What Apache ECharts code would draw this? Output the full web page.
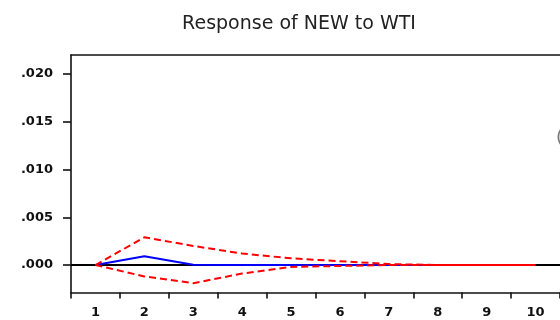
<!DOCTYPE html>
<html>
<head>
<meta charset="utf-8">
<script src="https://cdn.jsdelivr.net/npm/echarts@6/dist/echarts.min.js"></script>
<style>
  html, body { margin: 0; padding: 0; background: #fff; }
  #chart { width: 560px; height: 320px; }
</style>
</head>
<body>
<div id="chart"></div>
<script>
// Impulse response periods
const periods = ['1', '2', '3', '4', '5', '6', '7', '8', '9', '10'];
// Response of NEW to a WTI shock
const response = [0, 0.00092, 0.00002, 0.00001, 0, 0, 0, 0, 0, 0];
// +/- 2 S.E. bands
const upperBand = [0, 0.0029, 0.0020, 0.0012, 0.0007, 0.0004, 0.0001, 0, 0, 0];
const lowerBand = [0, -0.0012, -0.0019, -0.0009, -0.0002, -0.0001, 0, 0, 0, 0];
// Y axis tick values
const yTicks = [0, 0.005, 0.010, 0.015, 0.020];

const chart = echarts.init(document.getElementById('chart'), null, { renderer: 'canvas' });

const fmt = v => v.toFixed(3).replace(/^0/, '');
const axisFont = { fontFamily: 'DejaVu Sans', fontSize: 13, fontWeight: 'bold', color: '#111' };
const frame = { color: '#111', width: 1.6 };

chart.setOption({
  animation: false,
  backgroundColor: '#ffffff',
  title: {
    text: 'Response of NEW to WTI',
    left: 294,
    top: 10,
    textAlign: 'center',
    textStyle: { fontFamily: 'DejaVu Sans', fontSize: 19, fontWeight: 'normal', color: '#222' }
  },
  grid: { left: 71, top: 55, width: 491, height: 237.5, show: false },
  xAxis: [
    {
      type: 'category',
      data: periods,
      boundaryGap: true,
      position: 'bottom',
      axisLine: { onZero: false, lineStyle: frame },
      axisTick: { show: true, inside: false, length: 6, lineStyle: frame },
      axisLabel: Object.assign({ margin: 14 }, axisFont),
      splitLine: { show: false }
    },
    {
      // top edge of the plot frame
      type: 'category',
      data: periods,
      position: 'top',
      axisLine: { onZero: false, lineStyle: frame },
      axisTick: { show: false },
      axisLabel: { show: false },
      splitLine: { show: false }
    }
  ],
  yAxis: {
    type: 'value',
    min: -0.00288,
    max: 0.0220,
    axisLine: { show: true, onZero: false, lineStyle: frame },
    axisTick: { show: true, length: 8, customValues: yTicks, lineStyle: frame },
    axisLabel: Object.assign({ margin: 18, customValues: yTicks, formatter: fmt }, axisFont),
    splitLine: { show: false }
  },
  graphic: [{
    type: 'text',
    left: 556, top: 129,
    style: { text: '(', fontFamily: 'DejaVu Sans', fontSize: 18, fill: '#777' }
  }],
  series: [
    {
      name: 'zero',
      type: 'line',
      data: [],
      z: 1,
      markLine: {
        z: 1,
        silent: true,
        symbol: 'none',
        label: { show: false },
        lineStyle: { color: '#000', width: 1.8, type: 'solid' },
        data: [{ yAxis: 0 }]
      }
    },
    {
      name: 'Response',
      type: 'line',
      data: response,
      z: 2,
      symbol: 'none',
      lineStyle: { color: '#0000ff', width: 2 }
    },
    {
      name: 'Upper',
      type: 'line',
      data: upperBand,
      z: 3,
      symbol: 'none',
      lineStyle: { color: '#ff0000', width: 2, type: [7, 4] }
    },
    {
      name: 'Lower',
      type: 'line',
      data: lowerBand,
      z: 3,
      symbol: 'none',
      lineStyle: { color: '#ff0000', width: 2, type: [7, 4] }
    }
  ]
});
</script>
</body>
</html>
